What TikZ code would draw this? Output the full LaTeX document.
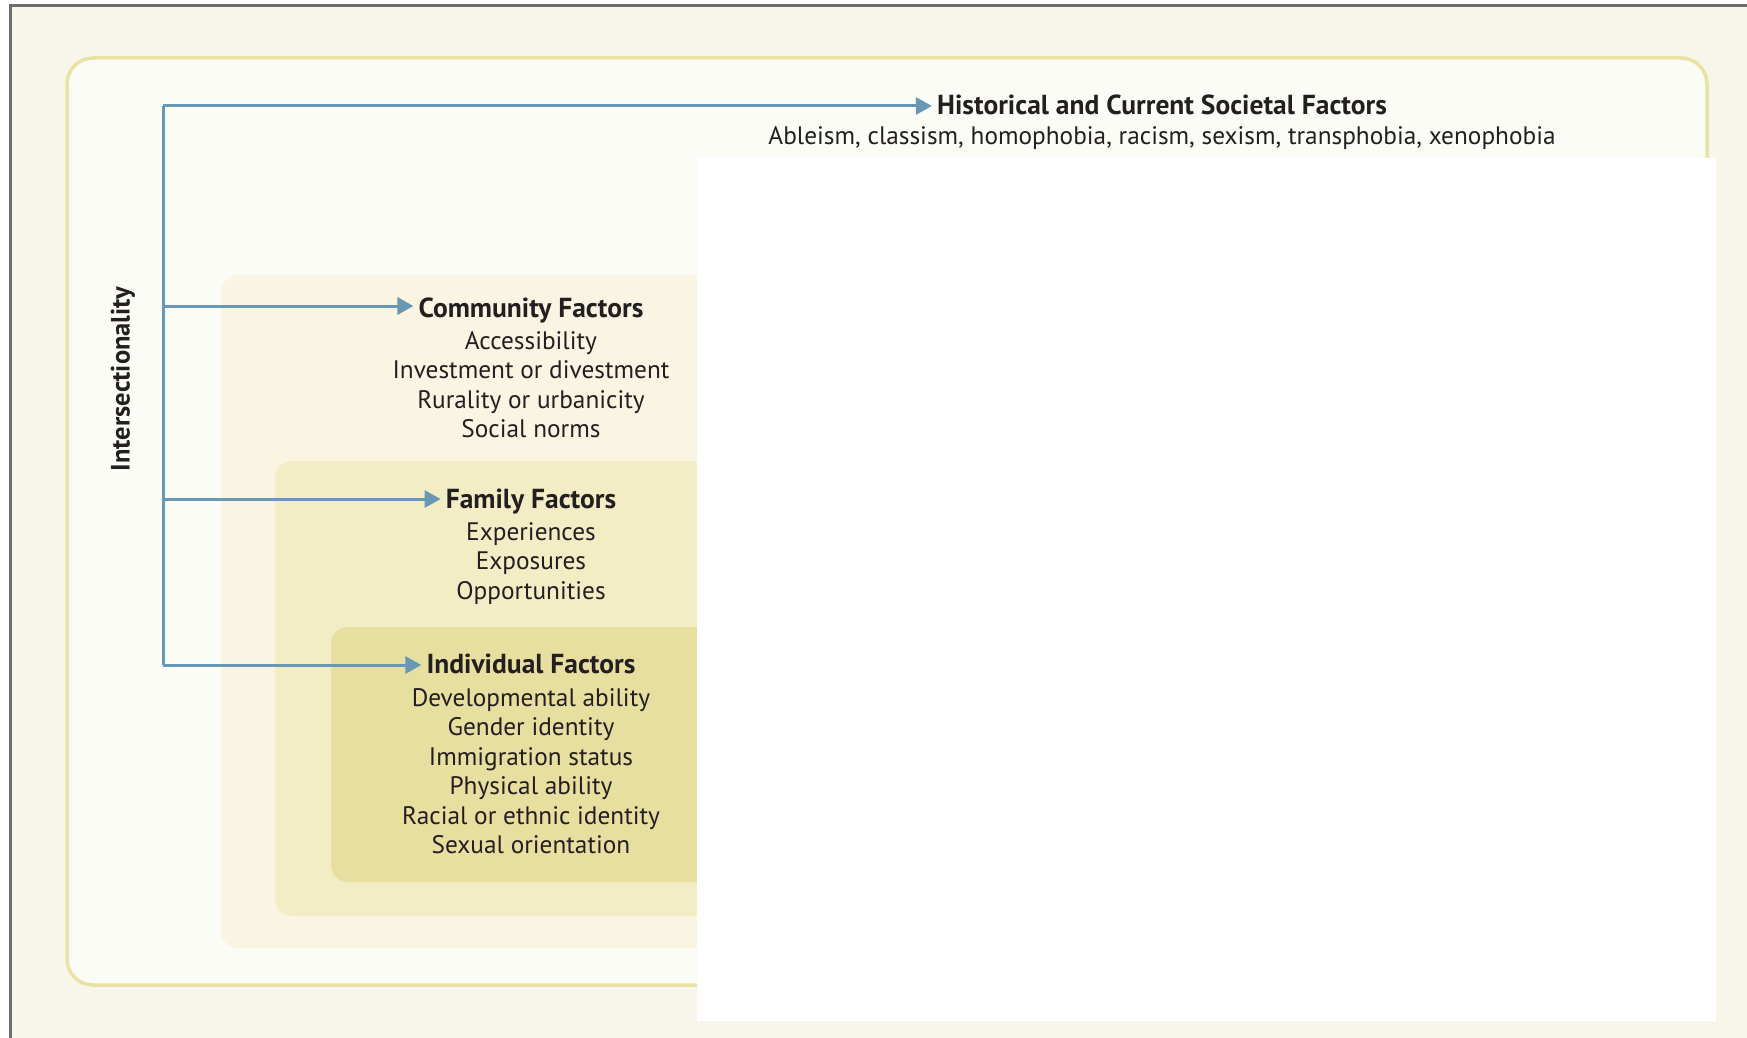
\documentclass[tikz,border=0pt]{standalone}
\usepackage{fontspec}
\setmainfont{PT Sans}
\usetikzlibrary{arrows.meta}
\definecolor{bgbeige}{HTML}{F8F6EA}
\definecolor{framefill}{HTML}{FCFCF6}
\definecolor{framedraw}{HTML}{EAE2A4}
\definecolor{commfill}{HTML}{FAF5E3}
\definecolor{famfill}{HTML}{F3EDC6}
\definecolor{indfill}{HTML}{E7DF9F}
\definecolor{spineblue}{HTML}{6A97B5}
\definecolor{bordergray}{HTML}{6E6E6E}
\definecolor{txt}{HTML}{231F20}
\tikzset{
  layerbox/.style={rounded corners=17pt, draw=none},
  factortitle/.style={font=\fontsize{27.5}{30}\selectfont\bfseries, text=txt, inner sep=5pt, anchor=base},
  factorlist/.style={font=\fontsize{25.3}{29.5}\selectfont, text=txt, align=center, inner sep=0pt, anchor=base},
  spinearrow/.style={draw=spineblue, line width=3pt, -{Triangle[length=16pt,width=17pt]}},
}
\begin{document}
\begin{tikzpicture}[x=1pt,y=-1pt]
\useasboundingbox (0,0) rectangle (1747,1038);
% background and partial border
\fill[white] (0,0) rectangle (1747,1038);
\fill[bgbeige] (10,5) rectangle (1747,1038);
\draw[bordergray, line width=3pt] (10.5,1038) -- (10.5,5.5) -- (1747,5.5);
% outer frame
\draw[framedraw, fill=framefill, line width=3.5pt, rounded corners=26pt] (67,58) rectangle (1707,985);
% nested layers
\fill[commfill, layerbox] (221,275) rectangle (1690,948);
\fill[famfill, layerbox] (275,461) rectangle (1660,916);
\fill[indfill, layerbox] (331,627) rectangle (1630,882);
% titles (lists anchored at the baseline of their last line)
\node[factortitle] (hist) at (1162,115) {Historical and Current Societal Factors};
\node[factorlist] (histlist) at (1162,145) {Ableism, classism, homophobia, racism, sexism, transphobia, xenophobia};
\node[factortitle] (comm) at (531,317) {Community Factors};
\node[factorlist] (commlist) at (531,437.5) {Accessibility\\Investment or divestment\\Rurality or urbanicity\\Social norms};
\node[factortitle] (fam) at (531,508) {Family Factors};
\node[factorlist] (famlist) at (531,599) {Experiences\\Exposures\\Opportunities};
\node[factortitle] (ind) at (531,673) {Individual Factors};
\node[factorlist] (indlist) at (531,853.5) {Developmental ability\\Gender identity\\Immigration status\\Physical ability\\Racial or ethnic identity\\Sexual orientation};
% spine
\coordinate (sptop) at (163,106);
\coordinate (spcomm) at (163,306);
\coordinate (spfam) at (163,499);
\coordinate (spind) at (163,665);
\draw[spineblue, line width=3pt] (sptop) -- (spind);
\draw[spinearrow] (sptop) -- (sptop -| hist.west);
\draw[spinearrow] (spcomm) -- (spcomm -| comm.west);
\draw[spinearrow] (spfam) -- (spfam -| fam.west);
\draw[spinearrow] (spind) -- (spind -| ind.west);
\node[font=\fontsize{26.5}{29}\selectfont\bfseries, text=txt, rotate=90] (inter) at (123,379) {Intersectionality};
% white mask
\fill[white] (697,158) rectangle (1716,1021);
\end{tikzpicture}
\end{document}
